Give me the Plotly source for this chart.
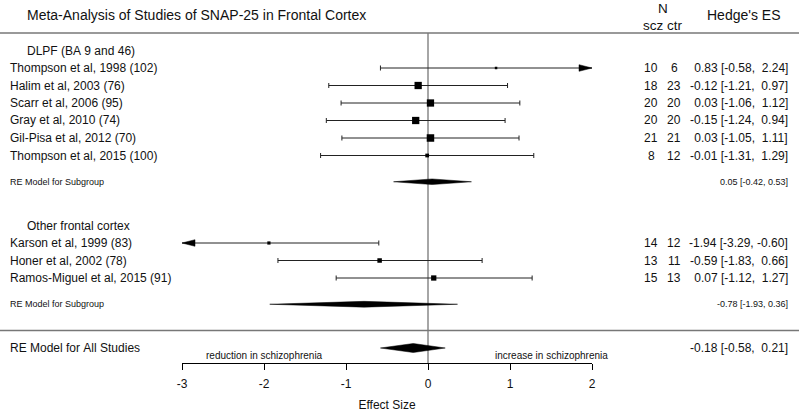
import numpy as np
import plotly.graph_objects as go

# ---------------- data ----------------
dlpf_studies = ["Thompson et al, 1998 (102)", "Halim et al, 2003 (76)", "Scarr et al, 2006 (95)",
                "Gray et al, 2010 (74)", "Gil-Pisa et al, 2012 (70)", "Thompson et al, 2015 (100)"]
dlpf_n_scz = [10, 18, 20, 20, 21, 8]
dlpf_n_ctr = [6, 23, 20, 20, 21, 12]
dlpf_es = [0.83, -0.12, 0.03, -0.15, 0.03, -0.01]
dlpf_lo = [-0.58, -1.21, -1.06, -1.24, -1.05, -1.31]
dlpf_hi = [2.24, 0.97, 1.12, 0.94, 1.11, 1.29]

other_studies = ["Karson et al, 1999 (83)", "Honer et al, 2002 (78)", "Ramos-Miguel et al, 2015 (91)"]
other_n_scz = [14, 13, 15]
other_n_ctr = [12, 11, 13]
other_es = [-1.94, -0.59, 0.07]
other_lo = [-3.29, -1.83, -1.12]
other_hi = [-0.60, 0.66, 1.27]

re_dlpf = [0.05, -0.42, 0.53]
re_other = [-0.78, -1.93, 0.36]
re_all = [-0.18, -0.58, 0.21]

group_labels = ["DLPF (BA 9 and 46)", "Other frontal cortex"]
x_ticks = [-3, -2, -1, 0, 1, 2]

# ---------------- layout constants ----------------
W, H = 799, 412
ML, MR, MT, MB = 182, 207, 0, 49
XMIN, XMAX = -3, 2
PW = W - ML - MR
PH = H - MT - MB
PXU = PW / (XMAX - XMIN)  # px per unit
ROW_PX = 17.5
ROW0_PX = 348
YMIN = (ROW0_PX - (H - MB)) / ROW_PX
YMAX = ROW0_PX / ROW_PX

def px2paper(px):
    return (px - ML) / PW

def py2paper(py):
    return (H - MB - py) / PH

def row2paper(r):
    return (r - YMIN) / (YMAX - YMIN)

FONT = "Liberation Sans, Arial, Helvetica, sans-serif"
INK = "#111111"

dlpf_rows = [16, 15, 14, 13, 12, 11]
other_rows = [6, 5, 4]
group_rows = [17, 7]
sub_rows = [9.5, 2.5]
all_row = 0
line_rows = [18, 1]

es = dlpf_es + other_es
lo = dlpf_lo + other_lo
hi = dlpf_hi + other_hi
rows = dlpf_rows + other_rows
studies = dlpf_studies + other_studies
n_scz = dlpf_n_scz + other_n_scz
n_ctr = dlpf_n_ctr + other_n_ctr

# square sizes from inverse-variance weights (metafor style)
se = (np.array(hi) - np.array(lo)) / (2 * 1.96)
w = 1 / se ** 2
psize = (w - w.min()) / (w.max() - w.min()) + 0.5
msize = psize * 5.0

fig = go.Figure()

# CI lines with caps
cap = 2.5 / ROW_PX
lx, ly = [], []
arrows = []
for e, l, h, r in zip(es, lo, hi, rows):
    l2, h2 = max(l, XMIN), min(h, XMAX)
    lx += [l2, h2, None]
    ly += [r, r, None]
    if l >= XMIN:
        lx += [l, l, None]; ly += [r - cap, r + cap, None]
    else:
        arrows.append((XMIN, r, +1))
    if h <= XMAX:
        lx += [h, h, None]; ly += [r - cap, r + cap, None]
    else:
        arrows.append((XMAX, r, -1))
fig.add_trace(go.Scatter(x=lx, y=ly, mode="lines", line=dict(color="#222222", width=1),
                         hoverinfo="skip", showlegend=False))

# arrowheads
alen = 13 / PXU
ahh = 3.3 / ROW_PX
for tip, r, d in arrows:
    fig.add_trace(go.Scatter(x=[tip, tip + d * alen, tip + d * alen, tip],
                             y=[r, r + ahh, r - ahh, r], mode="lines", fill="toself",
                             fillcolor="black", line=dict(color="black", width=0.5),
                             hoverinfo="skip", showlegend=False))

# squares
fig.add_trace(go.Scatter(x=es, y=rows, mode="markers",
                         marker=dict(symbol="square", size=msize, color="black", opacity=1,
                                     line=dict(width=0)),
                         showlegend=False, hoverinfo="skip", cliponaxis=False))

# diamonds
for (est, l, h), r, hh in zip([re_dlpf, re_other, re_all], sub_rows + [all_row], [2.8, 2.9, 4.5]):
    d = hh / ROW_PX
    fig.add_trace(go.Scatter(x=[l, est, h, est, l], y=[r, r + d, r, r - d, r], mode="lines",
                             fill="toself", fillcolor="black", line=dict(color="black", width=0.5),
                             hoverinfo="skip", showlegend=False))

# zero line
fig.add_shape(type="line", xref="x", yref="y", x0=0, x1=0, y0=YMIN, y1=line_rows[0],
              line=dict(color="#888888", width=1.5), layer="below")

# horizontal rules across full width
for r in line_rows:
    yp = row2paper(r)
    fig.add_shape(type="line", xref="paper", yref="paper", x0=px2paper(0),
                  x1=px2paper(W), y0=yp, y1=yp,
                  line=dict(color="#777777", width=1.5))

ann = []
def txt(xp, yp, s, size=12, anchor="left"):
    ann.append(dict(x=xp, y=yp, xref="paper", yref="paper", text=s.replace(" ", "\u00a0"),
                    showarrow=False, xanchor=anchor, yanchor="middle",
                    font=dict(family=FONT, size=size, color=INK)))

# header texts
txt(px2paper(25), py2paper(15), "Meta-Analysis of Studies of SNAP-25 in Frontal Cortex", 14)
txt(px2paper(663), py2paper(8), "N", 13.5, "center")
txt(px2paper(653), py2paper(25), "scz", 13.5, "center")
txt(px2paper(674.5), py2paper(25), "ctr", 13.5, "center")
txt(px2paper(744), py2paper(15), "Hedge's ES", 14, "center")

# group labels
for g, r in zip(group_labels, group_rows):
    txt(px2paper(25), row2paper(r), g)

def fmt_pad(v):
    return f"{v:5.2f}"

for s, r, ns, nc, e, l, h in zip(studies, rows, n_scz, n_ctr, es, lo, hi):
    yp = row2paper(r)
    txt(px2paper(8), yp, s)
    txt(px2paper(651), yp, str(ns), 12, "center")
    txt(px2paper(674), yp, str(nc), 12, "center")
    txt(px2paper(790), yp, f"{fmt_pad(e)} [{fmt_pad(l)}, {fmt_pad(h)}]", 12, "right")

for (est, l, h), r in zip([re_dlpf, re_other], sub_rows):
    yp = row2paper(r)
    txt(px2paper(8), yp, "RE Model for Subgroup", 9)
    txt(px2paper(790), yp, f"{est:.2f} [{l:.2f}, {h:.2f}]", 9, "right")

yp = row2paper(all_row)
txt(px2paper(8), yp, "RE Model for All Studies", 12)
e, l, h = re_all
txt(px2paper(790), yp, f"{fmt_pad(e)} [{fmt_pad(l)}, {fmt_pad(h)}]", 12, "right")

ann.append(dict(x=-2, y=py2paper(355), xref="x", yref="paper", text="reduction in schizophrenia",
                showarrow=False, xanchor="center", yanchor="middle",
                font=dict(family=FONT, size=10, color=INK)))
ann.append(dict(x=1.5, y=py2paper(355), xref="x", yref="paper", text="increase in schizophrenia",
                showarrow=False, xanchor="center", yanchor="middle",
                font=dict(family=FONT, size=10, color=INK)))

fig.update_layout(
    width=W, height=H,
    margin=dict(l=ML, r=MR, t=MT, b=MB, pad=0),
    paper_bgcolor="white", plot_bgcolor="white",
    annotations=ann,
    font=dict(family=FONT, size=12, color=INK),
    xaxis=dict(range=[XMIN, XMAX], tickvals=x_ticks, ticktext=[str(t) for t in x_ticks],
               showgrid=False, zeroline=False, showline=True, linecolor="black", linewidth=1,
               ticks="outside", ticklen=6, tickcolor="black", tickwidth=1,
               ticklabelstandoff=4,
               tickfont=dict(family=FONT, size=12, color=INK),
               title=dict(text="Effect Size", font=dict(family=FONT, size=12, color=INK), standoff=11),
               fixedrange=True),
    yaxis=dict(range=[YMIN, YMAX], visible=False, showgrid=False, zeroline=False, fixedrange=True),
    showlegend=False,
)

fig.write_html("out.html", config={"displayModeBar": False},
               post_script="document.body.style.margin='0';document.body.style.padding='0';")
